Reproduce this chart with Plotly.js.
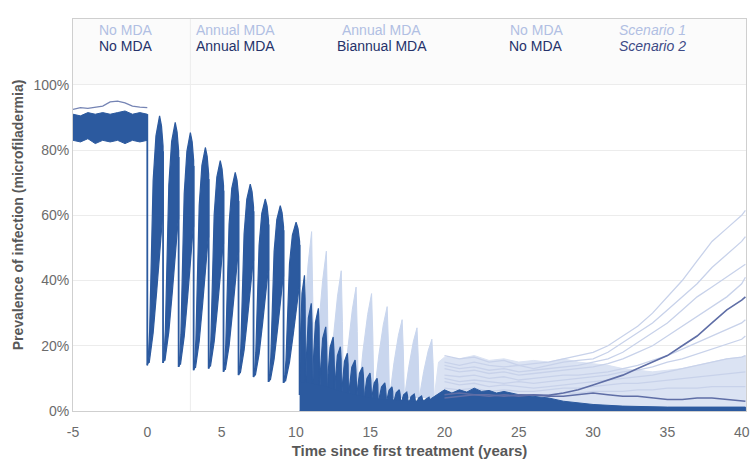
<!DOCTYPE html>
<html><head><meta charset="utf-8">
<script src="https://cdn.plot.ly/plotly-3.0.1.min.js"></script>
<style>html,body{margin:0;padding:0;background:#fff}#chart{width:752px;height:463px}</style>
</head><body><div id="chart"></div>
<script>
// ---------------- data ----------------
// pre-treatment period (No MDA), both scenarios
const preTime    = [-5, -4.5, -4, -3.5, -3, -2.5, -2, -1.5, -1, -0.5, 0];
const preUpper   = [91, 90.5, 91.5, 91, 91.5, 91, 91.5, 92, 91, 91.5, 91];
const preLower   = [83, 82.5, 83.5, 82, 83, 82.5, 83, 82, 83, 82.5, 83];
const preOutline = [92.5, 93, 92.8, 93.2, 93.5, 94.8, 95, 94.5, 93.5, 93.2, 93];

// annual MDA years 0-10 (both scenarios)
const annualDropTime = [0, 1.06, 2.11, 3.12, 4.13, 5.13, 6.14, 7.15, 8.16, 9.17, 10.25];
const annualPeak     = [90.5, 88.5, 85.4, 80.8, 76.8, 73.2, 69.6, 65, 63, 57.9];
const annualTrough   = [14, 14.7, 13.5, 12.5, 13, 12, 11, 10.4, 8.9, 8.6];

// scenario 2: biannual MDA years 10-20
const biannualDropTime = [10.25, 10.65, 11.12, 11.6, 12.1, 12.6, 13.08, 13.55, 14.08, 14.58, 15.08,
                          15.55, 16.08, 16.55, 17.05, 17.55, 18.05, 18.55, 19.05, 19.55, 20.05];
const biannualPeak   = [41.6, 33, 31.5, 25.8, 22.7, 19.7, 17.7, 15.6, 13.5, 11.6, 10, 8.6, 7.4,
                        6.5, 5.8, 5.2, 4.6, 4.2, 3.8, 3.5];
const biannualTrough = [4.9, 3, 2.5, 2, 1.5, 1.5, 1, 1, 0.8, 0.6, 0.5, 0.5, 0.4, 0.3, 0.3, 0.2,
                        0.2, 0.2, 0.2, 0.2];

// scenario 1: annual MDA years 10-20
const s1DropTime = [10.25, 11.2, 12.2, 13.2, 14.2, 15.25, 16.3, 17.3, 18.3, 19.3];
const s1Peak     = [55, 49, 43, 38, 36, 32, 28, 25.5, 22];
const s1Trough   = [4.9, 4, 4, 4, 4, 4, 4, 4, 4];

// scenario 2 dense low band (years 10-40)
const s2BaseTime = [10.25, 11, 12, 13, 14, 15, 16, 17, 18, 19, 20, 20.5, 21, 21.5, 22, 22.5, 23, 23.5,
                    24, 25, 26, 27, 28, 29, 30, 32, 35, 38, 40.25];
const s2BaseTop  = [9, 8.5, 7.5, 6, 5, 4, 3.5, 3.2, 3, 3.5, 6.5, 5.5, 6.5, 5.8, 7, 6, 6.3, 5.5,
                    6, 5, 4.5, 4, 3, 2.5, 2, 1.5, 1.2, 1.2, 1.2];

// post-MDA period (No MDA), individual runs
const postTime = [20, 21, 22, 23, 24, 25, 26, 27, 28, 29, 30, 31, 32, 33, 34, 35, 36, 37, 38, 39, 40, 40.25];
const s1BandTop = [16.5, 16, 17, 15.5, 16, 15, 15.5, 15, 16, 15, 14.5, 14, 13, 12.5, 12, 12.5, 13, 14, 15, 16, 16.5, 17];
const s1Runs = [
  [17, 16, 16.5, 15, 15.5, 14, 14.5, 15, 16, 17, 18, 20, 23, 26, 30, 35, 40, 46, 52, 56, 60, 61.5],
  [15, 14, 15, 14, 13.5, 14, 13, 14, 15, 15.5, 16, 18, 21, 24, 27, 31, 35, 39, 44, 48, 52, 53.5],
  [14, 13, 13.5, 12.5, 13, 12, 12.5, 13, 13.5, 14, 15, 16, 18, 21, 24, 27, 31, 35, 38, 41, 44, 45],
  [13, 12, 12.5, 11.5, 12, 11, 11.5, 12, 12.5, 13, 13.5, 14.5, 16, 18, 20, 23, 26, 29, 32, 35, 39, 41],
  [11, 10.5, 11, 10, 10.5, 9.5, 10, 10.5, 11, 11, 11.5, 12, 13, 14, 15.5, 17, 19, 21, 23, 25, 27, 28],
  [10, 9, 9.5, 9, 8.5, 9, 8.5, 9, 9.5, 10, 10.5, 11, 12, 12.5, 13.5, 15, 16, 17.5, 19, 20.5, 22, 23],
  [9, 8, 8.5, 7.5, 8, 7.5, 7, 7.5, 8, 8.5, 9, 9.5, 10, 10.5, 11, 12, 13, 14, 15, 16, 16.5, 17],
  [7, 6.5, 7, 6, 6.5, 6, 6, 6.5, 7, 7, 7.5, 8, 8.5, 8.5, 9, 9.5, 10, 10.5, 11, 11.5, 12, 12],
  [6, 5.5, 5, 5.5, 5, 4.5, 5, 5, 5.5, 5.5, 6, 6, 6, 6.5, 6.5, 7, 7, 7, 7.5, 7.5, 7.5, 7.5]
];
const s2RunRising = [4, 4.5, 5, 5, 4.5, 5, 5, 4.8, 5.5, 6.5, 8, 9.5, 11, 13, 15, 17, 20, 23, 27, 31, 34, 35];
const s2RunFlat   = [5, 5.5, 5, 4.5, 5, 4.5, 5, 4.5, 4.5, 5, 5.5, 5, 4.5, 4.5, 4, 3.5, 3.5, 4, 4, 3.5, 3, 3];

const xTickVals = [-5, 0, 5, 10, 15, 20, 25, 30, 35, 40];
const xTickText = ['-5', '0', '5', '10', '15', '20', '25', '30', '35', '40'];
const yTickVals = [0, 20, 40, 60, 80, 100];
const yTickText = ['0%', '20%', '40%', '60%', '80%', '100%'];

// ---------------- drawing helpers (shape of one treatment cycle) ----------------
const bladeUp = {f: [0, 0.08, 0.15, 0.25, 0.37, 0.55, 0.78, 0.9, 0.98, 1], v: [0, 0.05, 0.14, 0.4, 0.74, 0.92, 1, 0.96, 0.9, 0.88]};
const bladeLo = {f: [1, 0.95, 0.6, 0.37, 0.12], v: [0.6, 0.58, 0.3, 0.13, 0.01]};
const triUp   = {f: [0, 0.3, 0.6, 0.85, 0.93, 1, 1], v: [0, 0.45, 0.8, 1, 0.6, 0.2, 0]};
const triWide = {f: [0, 0.12, 0.4, 0.82, 0.92, 1, 1], v: [0, 0.45, 0.85, 1, 0.8, 0.45, 0]};

function cycles(drops, peaks, troughs, up, lo) {
  const x = [], y = [];
  for (let k = 0; k < peaks.length; k++) {
    const d0 = drops[k], d1 = drops[k + 1], tr = troughs[k], rise = peaks[k] - tr, p = d1 - d0;
    up.f.forEach((f, i) => { x.push(d0 + f * p); y.push(tr + up.v[i] * rise); });
    if (lo) lo.f.forEach((f, i) => { x.push(d0 + f * p); y.push(tr + lo.v[i] * rise); });
    x.push(null); y.push(null);
  }
  return {x, y};
}
function dropLines(drops, peaks, troughsNext) {
  const x = [], y = [];
  for (let k = 0; k < peaks.length; k++) {
    x.push(drops[k + 1], drops[k + 1], null);
    y.push(peaks[k] * 0.88, troughsNext[k], null);
  }
  return {x, y};
}

const DARK = '#2c5a9f', LIGHT = '#c9d6ee', SLATE = '#5f6ea6';
const traces = [];

// scenario 1 teeth (behind)
const s1 = cycles(s1DropTime, s1Peak, s1Trough, triUp, null);
traces.push({x: s1.x, y: s1.y, mode: 'lines', fill: 'toself', fillcolor: LIGHT, line: {color: LIGHT, width: 1}, hoverinfo: 'skip'});

// scenario 1 post band
traces.push({x: [19.3, 19.6].concat(postTime, [40.25, 19.3]), y: [4, 15].concat(s1BandTop, [0, 0]),
  mode: 'lines', fill: 'toself', fillcolor: '#dbe3f3', line: {color: '#dbe3f3', width: 1}, hoverinfo: 'skip'});
s1Runs.forEach(r => traces.push({x: postTime, y: r, mode: 'lines', line: {color: '#c8d2ea', width: 1.3}, hoverinfo: 'skip'}));

// annual teeth (both scenarios, drawn dark)
const an = cycles(annualDropTime, annualPeak, annualTrough, bladeUp, bladeLo);
traces.push({x: an.x, y: an.y, mode: 'lines', fill: 'toself', fillcolor: DARK, line: {color: DARK, width: 1.2}, hoverinfo: 'skip'});
const anDrop = dropLines(annualDropTime, annualPeak, annualTrough.slice(1).concat([biannualTrough[0]]));
traces.push({x: anDrop.x, y: anDrop.y, mode: 'lines', line: {color: DARK, width: 1.8}, hoverinfo: 'skip'});

// biannual teeth scenario 2
const bi = cycles(biannualDropTime, biannualPeak, biannualTrough, triWide, null);
traces.push({x: bi.x, y: bi.y, mode: 'lines', fill: 'toself', fillcolor: DARK, line: {color: DARK, width: 1.2}, hoverinfo: 'skip'});

// scenario 2 dense base
traces.push({x: s2BaseTime.concat([40.25, 10.25]), y: s2BaseTop.concat([0, 0]), mode: 'lines', fill: 'toself',
  fillcolor: DARK, line: {color: DARK, width: 1}, hoverinfo: 'skip'});

// pre-treatment band
traces.push({x: preTime.concat(preTime.slice().reverse()), y: preUpper.concat(preLower.slice().reverse()),
  mode: 'lines', fill: 'toself', fillcolor: DARK, line: {color: DARK, width: 1}, hoverinfo: 'skip'});
traces.push({x: preTime, y: preOutline, mode: 'lines', line: {color: '#7584b4', width: 1.3}, hoverinfo: 'skip'});
traces.push({x: [0, 0], y: [preUpper[preUpper.length - 1], annualTrough[0]], mode: 'lines', line: {color: DARK, width: 1.8}, hoverinfo: 'skip'});

// scenario 2 individual post runs
traces.push({x: postTime, y: s2RunFlat, mode: 'lines', line: {color: SLATE, width: 1.5}, hoverinfo: 'skip'});
traces.push({x: postTime, y: s2RunRising, mode: 'lines', line: {color: SLATE, width: 1.6}, hoverinfo: 'skip'});

// ---------------- labels ----------------
const row1Labels = ['No MDA', 'Annual MDA', 'Annual MDA', 'No MDA', '<i>Scenario 1</i>'];
const row1X      = [-3.4, 3.15, 13.0, 24.3, 31.6];
const row2Labels = ['No MDA', 'Annual MDA', 'Biannual MDA', 'No MDA', '<i>Scenario 2</i>'];
const row2X      = [-3.4, 3.15, 12.6, 24.2, 31.6];
const annotations = [];
row1Labels.forEach((t, i) => annotations.push({x: row1X[i], y: 116.9, xref: 'x', yref: 'y', text: t, showarrow: false,
  xanchor: 'left', yanchor: 'middle', font: {size: 14, color: '#b1bfe3'}}));
row2Labels.forEach((t, i) => annotations.push({x: row2X[i], y: 112, xref: 'x', yref: 'y', text: t, showarrow: false,
  xanchor: 'left', yanchor: 'middle', font: {size: 14, color: i === 4 ? '#3d4a86' : '#25326a'}}));

const layout = {
  width: 752, height: 463,
  margin: {l: 73, r: 6, t: 19, b: 52},
  paper_bgcolor: '#ffffff', plot_bgcolor: '#ffffff',
  showlegend: false,
  font: {family: 'Liberation Sans, Arial, sans-serif', color: '#6b6b6b'},
  xaxis: {range: [-5, 40.29], tickvals: xTickVals, ticktext: xTickText, showgrid: false, zeroline: false,
    showline: true, mirror: true, linecolor: '#cfcfcf', linewidth: 1, ticks: 'outside', ticklen: 8, tickcolor: 'rgba(0,0,0,0)',
    tickfont: {size: 14, color: '#6b6b6b'},
    title: {text: '<b>Time since first treatment (years)</b>', font: {size: 15, color: '#585858'}, standoff: 6}},
  yaxis: {range: [0, 120.2], tickvals: yTickVals, ticktext: yTickText,
    showgrid: true, gridcolor: '#ececec', zeroline: false, showline: true, mirror: true, linecolor: '#cfcfcf',
    tickfont: {size: 14, color: '#6b6b6b'},
    title: {text: '<b>Prevalence of infection (microfiladermia)</b>', font: {size: 14, color: '#585858'}, standoff: 6}},
  shapes: [
    {type: 'rect', xref: 'paper', yref: 'y', x0: 0, x1: 1, y0: 100, y1: 120.2, fillcolor: '#fbfbfb', line: {width: 0}, layer: 'below'},
    {type: 'line', xref: 'x', yref: 'paper', x0: 2.9, x1: 2.9, y0: 0, y1: 1, line: {color: '#ececec', width: 1}, layer: 'below'}
  ],
  annotations: annotations
};

Plotly.newPlot('chart', traces, layout, {staticPlot: true, displayModeBar: false});
</script></body></html>
